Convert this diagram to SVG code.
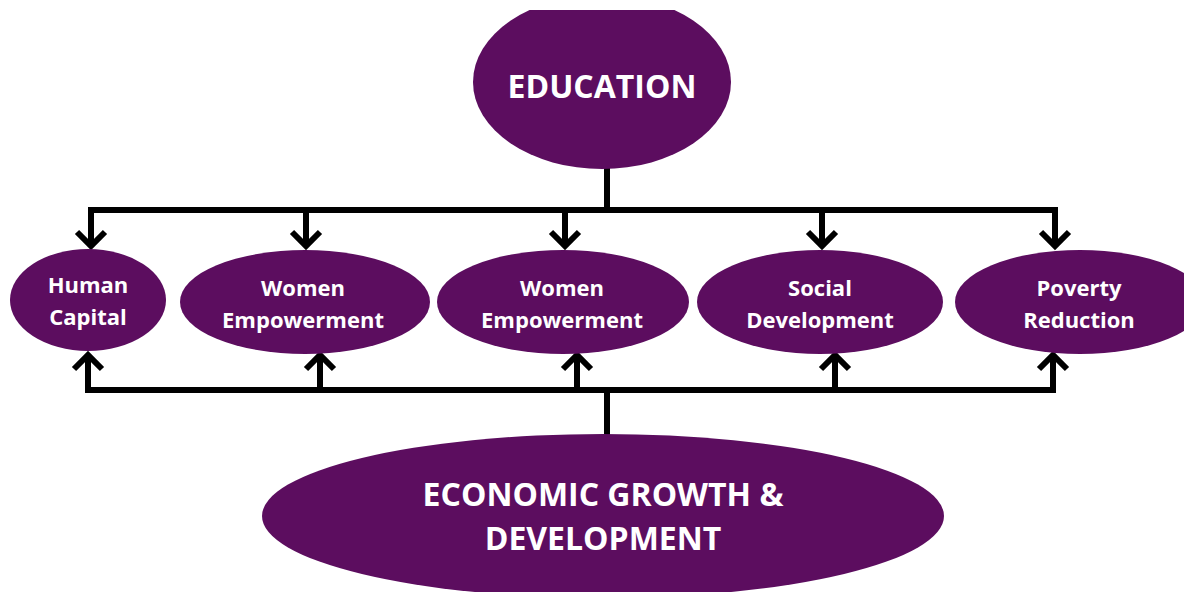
<svg xmlns="http://www.w3.org/2000/svg" width="1184" height="592" viewBox="0 0 1184 592">
  <defs>
    <style>
      .node { fill: #5c0d5f; }
      .lbl { fill: #ffffff; font-family: "Open Sans", "Liberation Sans", sans-serif; font-weight: bold; text-anchor: middle; }
      .sm { font-size: 22px; }
      .big { font-size: 32px; }
      .wire { fill: none; stroke: #000000; stroke-width: 6; stroke-linejoin: miter; }
    </style>
    <clipPath id="topclip"><rect x="0" y="10" width="1184" height="582"/></clipPath>
  </defs>
  <rect width="1184" height="592" fill="#ffffff"/>

  <g id="connectors">
    <path class="wire" d="M607,168 V210 M88,210 H1058"/>
    <path class="wire" d="M91,210 V246 M77,232 L91,246 L105,232"/>
    <path class="wire" d="M306,210 V246 M292,232 L306,246 L320,232"/>
    <path class="wire" d="M565,210 V246 M551,232 L565,246 L579,232"/>
    <path class="wire" d="M822,210 V246 M808,232 L822,246 L836,232"/>
    <path class="wire" d="M1055,210 V246 M1041,232 L1055,246 L1069,232"/>
    <path class="wire" d="M607,435 V390 M85,390 H1056"/>
    <path class="wire" d="M88,390 V355 M74,369 L88,355 L102,369"/>
    <path class="wire" d="M320,390 V355 M306,369 L320,355 L334,369"/>
    <path class="wire" d="M577,390 V355 M563,369 L577,355 L591,369"/>
    <path class="wire" d="M835,390 V355 M821,369 L835,355 L849,369"/>
    <path class="wire" d="M1053,390 V355 M1039,369 L1053,355 L1067,369"/>
  </g>

  <g id="education">
    <ellipse class="node" cx="602" cy="82" rx="129" ry="87" clip-path="url(#topclip)"/>
    <text class="lbl big" x="602" y="98">EDUCATION</text>
  </g>

  <g id="human-capital">
    <ellipse class="node" cx="88" cy="300" rx="78" ry="51"/>
    <text class="lbl sm" x="88" y="293">Human</text>
    <text class="lbl sm" x="88" y="325">Capital</text>
  </g>

  <g id="women-empowerment-1">
    <ellipse class="node" cx="305" cy="302" rx="125" ry="52"/>
    <text class="lbl sm" x="303" y="296">Women</text>
    <text class="lbl sm" x="303" y="328">Empowerment</text>
  </g>

  <g id="women-empowerment-2">
    <ellipse class="node" cx="563" cy="302" rx="126" ry="52"/>
    <text class="lbl sm" x="562" y="296">Women</text>
    <text class="lbl sm" x="562" y="328">Empowerment</text>
  </g>

  <g id="social-development">
    <ellipse class="node" cx="820" cy="302" rx="123" ry="52"/>
    <text class="lbl sm" x="820" y="296">Social</text>
    <text class="lbl sm" x="820" y="328">Development</text>
  </g>

  <g id="poverty-reduction">
    <ellipse class="node" cx="1080" cy="302" rx="125" ry="52"/>
    <text class="lbl sm" x="1079" y="296">Poverty</text>
    <text class="lbl sm" x="1079" y="328">Reduction</text>
  </g>

  <g id="economic-growth">
    <ellipse class="node" cx="603" cy="516" rx="341" ry="82"/>
    <text class="lbl big" x="603" y="506">ECONOMIC GROWTH &amp;</text>
    <text class="lbl big" x="603" y="550">DEVELOPMENT</text>
  </g>
</svg>
